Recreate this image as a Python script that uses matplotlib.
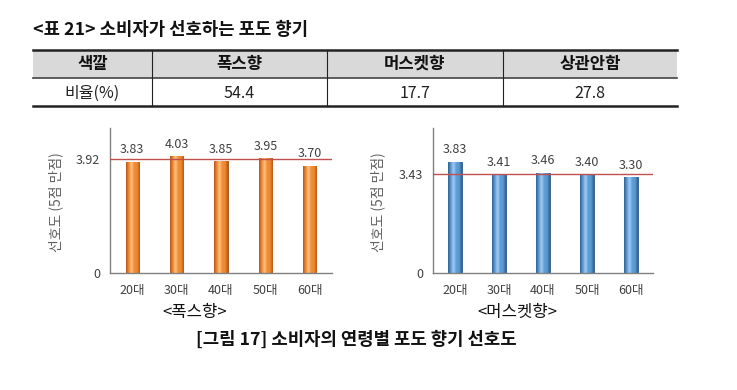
import numpy as np
import matplotlib
matplotlib.use("Agg")
import matplotlib.pyplot as plt
from matplotlib.colors import LinearSegmentedColormap
from matplotlib.lines import Line2D
from matplotlib.patches import Rectangle

plt.rcParams['font.family'] = ['Noto Sans CJK KR', 'DejaVu Sans']

# ---------------- data ----------------
table_title = "<표 21> 소비자가 선호하는 포도 향기"
table_header = ["색깔", "폭스향", "머스켓향", "상관안함"]
table_row = ["비율(%)", "54.4", "17.7", "27.8"]

age_groups = ["20대", "30대", "40대", "50대", "60대"]
fox_values = [3.83, 4.03, 3.85, 3.95, 3.70]
fox_mean = 3.92
muscat_values = [3.83, 3.41, 3.46, 3.40, 3.30]
muscat_mean = 3.43
y_label = "선호도 (5점 만점)"
fox_title = "<폭스향>"
muscat_title = "<머스켓향>"
figure_caption = "[그림 17] 소비자의 연령별 포도 향기 선호도"

W, H = 737, 390
fig = plt.figure(figsize=(W / 100, H / 100), dpi=100)
fig.patch.set_facecolor("white")

# full-figure overlay in pixel coordinates
ov = fig.add_axes([0, 0, 1, 1])
ov.set_xlim(0, W)
ov.set_ylim(H, 0)
ov.axis("off")

# ---------------- title & table ----------------
ov.text(33, 30, table_title, fontsize=12.8, fontweight="bold", va="center", ha="left", color="#111111")

col_edges = [33, 152, 327, 503, 677]
y_top, y_mid, y_bot = 50, 78, 106
ov.add_patch(Rectangle((col_edges[0], y_top), col_edges[-1] - col_edges[0], y_mid - y_top,
                       facecolor="#D9D9D9", edgecolor="none", zorder=1))
ov.add_line(Line2D([col_edges[0], col_edges[-1]], [y_top, y_top], color="#222222", lw=1.8, zorder=3))
ov.add_line(Line2D([col_edges[0], col_edges[-1]], [y_mid, y_mid], color="#444444", lw=1.2, zorder=3))
ov.add_line(Line2D([col_edges[0], col_edges[-1]], [y_bot, y_bot], color="#222222", lw=1.8, zorder=3))
for xe in col_edges[1:-1]:
    ov.add_line(Line2D([xe, xe], [y_top, y_bot], color="#222222", lw=0.8, zorder=3))
for i in range(len(table_header)):
    xc = (col_edges[i] + col_edges[i + 1]) / 2
    ov.text(xc, (y_top + y_mid) / 2, table_header[i], fontsize=12, fontweight="bold",
            ha="center", va="center", color="#111111", zorder=4)
    ov.text(xc, (y_mid + y_bot) / 2 + 1, table_row[i], fontsize=11.5,
            ha="center", va="center", color="#222222", zorder=4)


def gradient_bars(ax, values, dark, base, light, edge):
    x = np.arange(len(values))
    bars = ax.bar(x, values, width=0.3, color=base, edgecolor=edge, linewidth=0.6, zorder=2)
    cmap = LinearSegmentedColormap.from_list("g", [dark, base, light, base, base, dark])
    grad = np.linspace(0, 1, 64).reshape(1, -1)
    for b in bars:
        x0, w, h = b.get_x(), b.get_width(), b.get_height()
        im = ax.imshow(grad, extent=[x0, x0 + w, 0, h], aspect="auto", cmap=cmap,
                       zorder=2.5, interpolation="bicubic")
        im.set_clip_path(b)
    return bars


def make_chart(left_px, right_px, values, mean, colors, sub_title, sub_x, ylab_x):
    bottom_px, top_px = 273, 128
    ax = fig.add_axes([left_px / W, 1 - bottom_px / H, (right_px - left_px) / W, (bottom_px - top_px) / H])
    ax.set_facecolor("white")
    gradient_bars(ax, values, *colors)
    ax.set_xlim(-0.5, len(values) - 0.5)
    ax.set_ylim(0, 5)
    ax.axhline(mean, color="#C0504D", lw=1.0, zorder=3)
    for i, v in enumerate(values):
        ax.annotate(f"{v:.2f}", (i, v), xytext=(0, 4), textcoords="offset points",
                    ha="center", va="bottom", fontsize=9, color="#404040", zorder=4)
    ax.set_xticks(range(len(values)))
    ax.set_xticklabels(age_groups)
    ax.set_yticks([0, mean])
    ax.set_yticklabels(["0", f"{mean:.2f}"])
    ax.tick_params(axis="both", length=0, labelsize=9, colors="#404040")
    ax.tick_params(axis="x", pad=8)
    ax.tick_params(axis="y", pad=7)
    for s in ["top", "right"]:
        ax.spines[s].set_visible(False)
    for s in ["left", "bottom"]:
        ax.spines[s].set_color("#808080")
        ax.spines[s].set_linewidth(1.0)
    ax.set_ylabel(y_label, fontsize=10, color="#606060")
    ax.yaxis.set_label_coords((ylab_x - left_px) / (right_px - left_px), 0.49)
    ov.text(sub_x, 312, sub_title, ha="center", va="center", fontsize=12, color="#111111")
    return ax


orange = ("#B5561A", "#F08A30", "#FDC48A", "#9A4A14")
blue = ("#2F5F8F", "#5B9BD5", "#A8CDF0", "#2A5580")
ax1 = make_chart(110, 332, fox_values, fox_mean, orange, fox_title, 195, 63)
ax2 = make_chart(433, 653, muscat_values, muscat_mean, blue, muscat_title, 517, 385)

ov.text(356, 340, figure_caption, ha="center", va="center", fontsize=12.8, fontweight="bold", color="#111111")

fig.savefig("out.png", dpi=100)
